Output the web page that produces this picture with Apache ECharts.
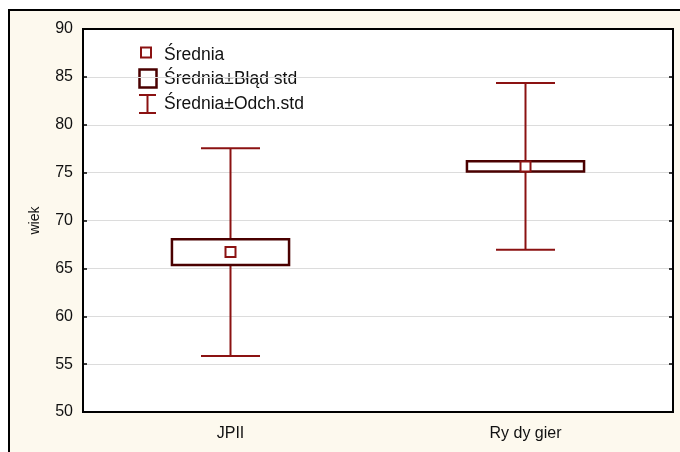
<!DOCTYPE html>
<html><head><meta charset="utf-8">
<script src="https://cdn.jsdelivr.net/npm/echarts@6/dist/echarts.min.js"></script>
<style>html,body{margin:0;padding:0;background:#fff}#c{width:680px;height:452px}</style>
</head><body><div id="c"></div>
<script>
const categories = ['JPII', 'Ry dy gier'];
const means = [66.7, 75.65];
const stdErr = [1.35, 0.54];
const stdDev = [10.85, 8.7];
const yTicks = [50, 55, 60, 65, 70, 75, 80, 85, 90];
const legendLabels = ['Średnia', 'Średnia±Błąd std', 'Średnia±Odch.std'];

const whiskerColor = '#8b1212';
const boxColor = '#4a0000';
const font = '"Liberation Sans", Arial, sans-serif';

const chart = echarts.init(document.getElementById('c'), null, {renderer: 'canvas'});

const seriesData = categories.map((c, i) => [i, means[i], stdErr[i], stdDev[i]]);

function renderItem(params, api) {
  const i = api.value(0), m = api.value(1), se = api.value(2), sd = api.value(3);
  const band = api.size([1, 0])[0];
  const cx = api.coord([i, m])[0];
  const yHi = api.coord([i, m + sd])[1];
  const yLo = api.coord([i, m - sd])[1];
  const bHi = api.coord([i, m + se])[1];
  const bLo = api.coord([i, m - se])[1];
  const yM = api.coord([i, m])[1];
  const bw = band * 0.397, cw = band * 0.2, ms = 10;
  const ls = {stroke: whiskerColor, lineWidth: 2};
  return {
    type: 'group',
    children: [
      {type: 'line', shape: {x1: cx, y1: yHi, x2: cx, y2: yLo}, style: ls},
      {type: 'line', shape: {x1: cx - cw / 2, y1: yHi, x2: cx + cw / 2, y2: yHi}, style: ls},
      {type: 'line', shape: {x1: cx - cw / 2, y1: yLo, x2: cx + cw / 2, y2: yLo}, style: ls},
      {type: 'rect', shape: {x: cx - bw / 2, y: bHi, width: bw, height: bLo - bHi},
        style: {fill: '#fff', stroke: boxColor, lineWidth: 2.5}},
      {type: 'rect', shape: {x: cx - ms / 2, y: yM - ms / 2, width: ms, height: ms},
        style: {fill: '#fff', stroke: whiskerColor, lineWidth: 2}}
    ]
  };
}

const legendGraphics = [
  {type: 'rect', shape: {x: 141, y: 47.5, width: 10, height: 10}, style: {fill: '#fff', stroke: whiskerColor, lineWidth: 2}},
  {type: 'rect', shape: {x: 139.5, y: 69.5, width: 17, height: 18}, style: {fill: '#fff', stroke: boxColor, lineWidth: 2.5}},
  {type: 'line', shape: {x1: 147.5, y1: 95, x2: 147.5, y2: 113}, style: {stroke: whiskerColor, lineWidth: 2}},
  {type: 'line', shape: {x1: 139, y1: 95, x2: 156, y2: 95}, style: {stroke: whiskerColor, lineWidth: 2}},
  {type: 'line', shape: {x1: 139, y1: 113, x2: 156, y2: 113}, style: {stroke: whiskerColor, lineWidth: 2}}
].concat(legendLabels.map((t, k) => ({
  type: 'text', x: 164, y: 55 + k * 24.5,
  style: {text: t, fill: '#111', font: '17.5px ' + font, textVerticalAlign: 'middle'}
})));

chart.setOption({
  backgroundColor: '#fff',
  animation: false,
  graphic: [
    {type: 'rect', z: -10, shape: {x: 9, y: 10, width: 690, height: 460},
      style: {fill: '#fdf9ee', stroke: '#000', lineWidth: 2}},
    {type: 'group', z: 100, children: legendGraphics}
  ],
  grid: {left: 83, top: 29, right: 7, bottom: 40, show: true, backgroundColor: '#fff', borderColor: '#000', borderWidth: 2},
  xAxis: [
    {type: 'category', data: categories, boundaryGap: true,
      axisLine: {lineStyle: {color: '#000', width: 2}},
      axisTick: {inside: true, alignWithLabel: true, length: 4, lineStyle: {color: '#000', width: 1.5}},
      axisLabel: {color: '#111', fontSize: 16, fontFamily: font, margin: 14},
      splitLine: {show: false}},
    {type: 'category', data: categories, position: 'top', boundaryGap: true,
      axisLine: {lineStyle: {color: '#000', width: 2}},
      axisTick: {inside: true, alignWithLabel: true, length: 4, lineStyle: {color: '#000', width: 1.5}},
      axisLabel: {show: false}}
  ],
  yAxis: [
    {type: 'value', min: 50, max: 90, interval: 5, name: 'wiek', nameLocation: 'middle', nameGap: 41,
      nameTextStyle: {color: '#111', fontSize: 14, fontFamily: font},
      axisLine: {show: true, lineStyle: {color: '#000', width: 2}},
      axisTick: {show: true, inside: true, length: 4, lineStyle: {color: '#000', width: 1.5}},
      axisLabel: {color: '#111', fontSize: 16, fontFamily: font, margin: 10,
        formatter: v => yTicks.includes(v) ? String(v) : ''},
      splitLine: {show: true, lineStyle: {color: '#dcdcdc', width: 1}}},
    {type: 'value', min: 50, max: 90, interval: 5, position: 'right',
      axisLine: {show: true, lineStyle: {color: '#000', width: 2}},
      axisTick: {show: true, inside: true, length: 4, lineStyle: {color: '#000', width: 1.5}},
      axisLabel: {show: false}, splitLine: {show: false}}
  ],
  series: [{
    type: 'custom', renderItem: renderItem, data: seriesData,
    encode: {x: 0, y: 1}, clip: false, z: 10
  }]
});
</script></body></html>
